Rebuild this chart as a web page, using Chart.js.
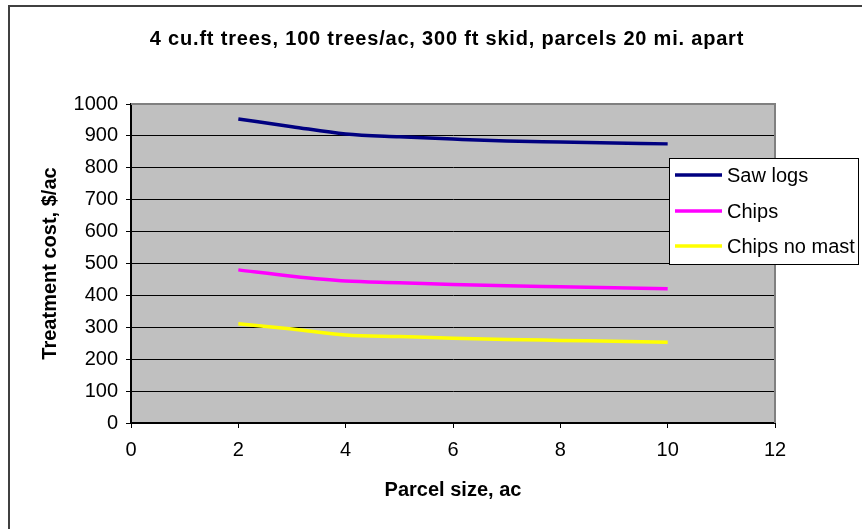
<!DOCTYPE html>
<html>
<head>
<meta charset="utf-8">
<script src="https://cdn.jsdelivr.net/npm/chart.js@4/dist/chart.umd.min.js"></script>
<style>
html,body{margin:0;padding:0;background:#fff;}
#wrap{width:862px;height:529px;position:relative;}
</style>
</head>
<body>
<div id="wrap"><canvas id="c" width="862" height="529"></canvas></div>
<script>
// ---- data ----
const chartTitle = "4 cu.ft trees, 100 trees/ac, 300 ft skid, parcels 20 mi. apart";
const xAxisTitle = "Parcel size, ac";
const yAxisTitle = "Treatment cost, $/ac";
const parcelSizes = [2, 3, 4, 5, 6, 7, 8, 9, 10];
const sawLogs = [953, 929, 906, 897, 890, 884, 881, 878, 875];
const chips = [480, 460, 445, 440, 434, 430, 427, 424, 421];
const chipsNoMast = [311, 295, 276, 271, 266, 262, 259, 256, 253];
const seriesNames = ["Saw logs", "Chips", "Chips no mast"];
const seriesColors = ["#000080", "#FF00FF", "#FFFF00"];

const FONT = "'Liberation Sans', Arial, sans-serif";

function toPoints(vals) {
  return parcelSizes.map((x, i) => ({ x: x, y: vals[i] }));
}
const seriesValues = [sawLogs, chips, chipsNoMast];

const datasets = seriesValues.map((vals, i) => ({
  label: seriesNames[i],
  data: toPoints(vals),
  borderColor: seriesColors[i],
  backgroundColor: seriesColors[i],
  borderWidth: 3.5,
  pointRadius: 0,
  showLine: true,
  cubicInterpolationMode: 'monotone',
  fill: false
}));

const framePlugin = {
  id: 'frame',
  beforeDraw(chart) {
    const ctx = chart.ctx;
    const a = chart.chartArea;
    ctx.save();
    ctx.fillStyle = '#C0C0C0';
    ctx.fillRect(a.left, a.top, a.right - a.left, a.bottom - a.top);
    // outer chart frame
    ctx.strokeStyle = '#404040';
    ctx.lineWidth = 2;
    ctx.strokeRect(9, 6, 900, 600);
    // chart title
    ctx.fillStyle = '#000000';
    ctx.font = "bold 20px " + FONT;
    ctx.textAlign = 'center';
    ctx.textBaseline = 'middle';
    if ('letterSpacing' in ctx) ctx.letterSpacing = '0.8px';
    ctx.fillText(chartTitle, 447, 39);
    if ('letterSpacing' in ctx) ctx.letterSpacing = '0px';
    ctx.restore();
  },
  afterDatasetsDraw(chart) {
    const ctx = chart.ctx;
    const a = chart.chartArea;
    ctx.save();
    // plot area border top/right in gray
    ctx.strokeStyle = '#808080';
    ctx.lineWidth = 2;
    ctx.beginPath();
    ctx.moveTo(a.left, a.top);
    ctx.lineTo(a.right, a.top);
    ctx.lineTo(a.right, a.bottom);
    ctx.stroke();
    // legend box
    const lx = 669, ly = 158, lw = 189, lh = 106;
    ctx.fillStyle = '#FFFFFF';
    ctx.fillRect(lx, ly, lw, lh);
    ctx.strokeStyle = '#000000';
    ctx.lineWidth = 1;
    ctx.strokeRect(lx + 0.5, ly + 0.5, lw, lh);
    const rows = [175, 211, 246];
    ctx.font = "20px " + FONT;
    ctx.textBaseline = 'middle';
    ctx.textAlign = 'left';
    chart.data.datasets.forEach((ds, i) => {
      ctx.strokeStyle = ds.borderColor;
      ctx.lineWidth = 3.5;
      ctx.beginPath();
      ctx.moveTo(675, rows[i]);
      ctx.lineTo(722, rows[i]);
      ctx.stroke();
      ctx.fillStyle = '#000000';
      ctx.fillText(ds.label, 727, rows[i] + 1);
    });
    ctx.restore();
  }
};

new Chart(document.getElementById('c'), {
  type: 'scatter',
  data: { datasets: datasets },
  options: {
    responsive: false,
    animation: false,
    layout: { padding: { left: 0, right: 87, top: 104, bottom: 0 } },
    plugins: {
      legend: { display: false },
      tooltip: { enabled: false },
      title: { display: false }
    },
    scales: {
      x: {
        type: 'linear',
        min: 0, max: 12,
        afterFit(scale) { scale.height = 106; },
        ticks: {
          stepSize: 2,
          color: '#000000',
          padding: 10,
          font: { family: FONT, size: 20, lineHeight: 1.2 },
          callback: (v) => String(v)
        },
        grid: {
          drawOnChartArea: false,
          drawTicks: true,
          tickLength: 5,
          color: '#000000',
          lineWidth: 1
        },
        border: { display: true, color: '#000000', width: 2 },
        title: {
          display: true,
          text: xAxisTitle,
          color: '#000000',
          font: { family: FONT, size: 20, weight: 'bold', lineHeight: 1.2 },
          padding: { top: 0, bottom: 27 }
        }
      },
      y: {
        type: 'linear',
        min: 0, max: 1000,
        afterFit(scale) { scale.width = 131; },
        ticks: {
          stepSize: 100,
          color: '#000000',
          padding: 8,
          font: { family: FONT, size: 20, lineHeight: 1.2 },
          callback: (v) => String(v)
        },
        grid: {
          drawOnChartArea: true,
          drawTicks: true,
          tickLength: 5,
          color: '#000000',
          lineWidth: 1
        },
        border: { display: true, color: '#000000', width: 2 },
        title: {
          display: true,
          text: yAxisTitle,
          color: '#000000',
          font: { family: FONT, size: 20, weight: 'bold', lineHeight: 1.2 },
          padding: { top: 38, bottom: 0 }
        }
      }
    }
  },
  plugins: [framePlugin]
});
</script>
</body>
</html>
